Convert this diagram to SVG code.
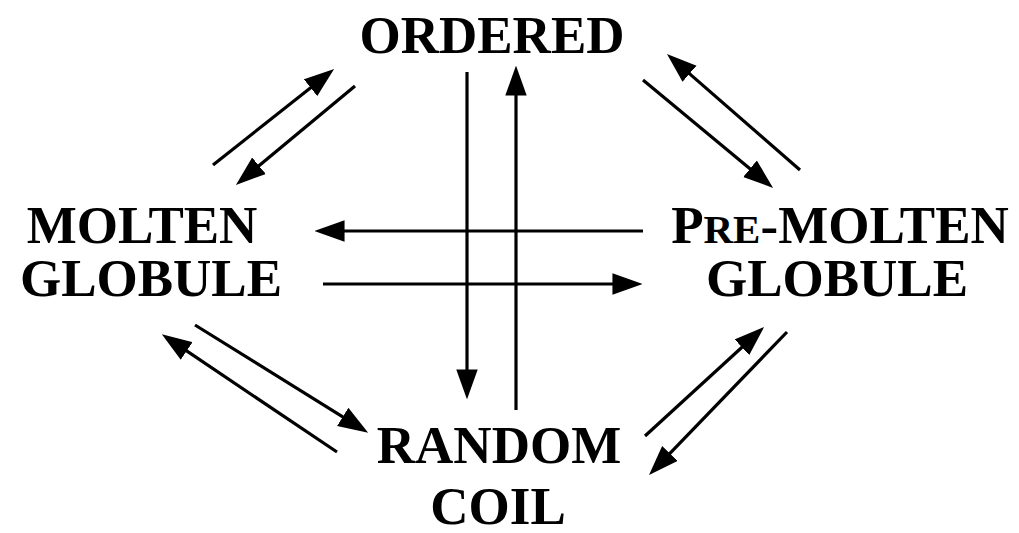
<svg xmlns="http://www.w3.org/2000/svg" width="1019" height="533" viewBox="0 0 1019 533">
<style>
.t{font-family:"Liberation Serif","Times New Roman",serif;font-weight:bold;font-size:53px;fill:#000;text-anchor:middle}
.sc{font-size:41px}
.c line{stroke:#000;stroke-width:3.2;marker-end:url(#ah)}
</style>
<defs>
<marker id="ah" markerUnits="userSpaceOnUse" markerWidth="30" markerHeight="22" viewBox="0 0 28 20" refX="8" refY="10" orient="auto">
<path d="M0,0 L28,10 L0,20 z" fill="#000"/>
</marker>
</defs>
<rect width="1019" height="533" fill="#fff"/>
<g id="ordered"><text class="t" x="492" y="53">ORDERED</text></g>
<g id="molten-globule"><text class="t" x="142" y="243">MOLTEN</text><text class="t" x="151" y="296">GLOBULE</text></g>
<g id="pre-molten-globule"><text class="t" x="840" y="243">P<tspan class="sc">RE</tspan>-MOLTEN</text><text class="t" x="837" y="296">GLOBULE</text></g>
<g id="random-coil"><text class="t" x="499" y="463">RANDOM</text><text class="t" x="498" y="524">COIL</text></g>
<g id="connectors" class="c">
<line x1="213" y1="165" x2="317.3" y2="82.4"/>
<line x1="355" y1="86" x2="252.4" y2="171.2"/>
<line x1="643" y1="80" x2="756.6" y2="174.2"/>
<line x1="800" y1="170" x2="683.1" y2="68.1"/>
<line x1="195" y1="325" x2="350" y2="421.4"/>
<line x1="337" y1="452" x2="179.6" y2="346.2"/>
<line x1="645" y1="436" x2="748.25" y2="341.5"/>
<line x1="787" y1="332" x2="663.9" y2="459.6"/>
<line x1="467" y1="72" x2="467" y2="378"/>
<line x1="516" y1="410" x2="516" y2="87"/>
<line x1="643" y1="231" x2="336" y2="231"/>
<line x1="323" y1="284" x2="621" y2="284"/>
</g>
</svg>
